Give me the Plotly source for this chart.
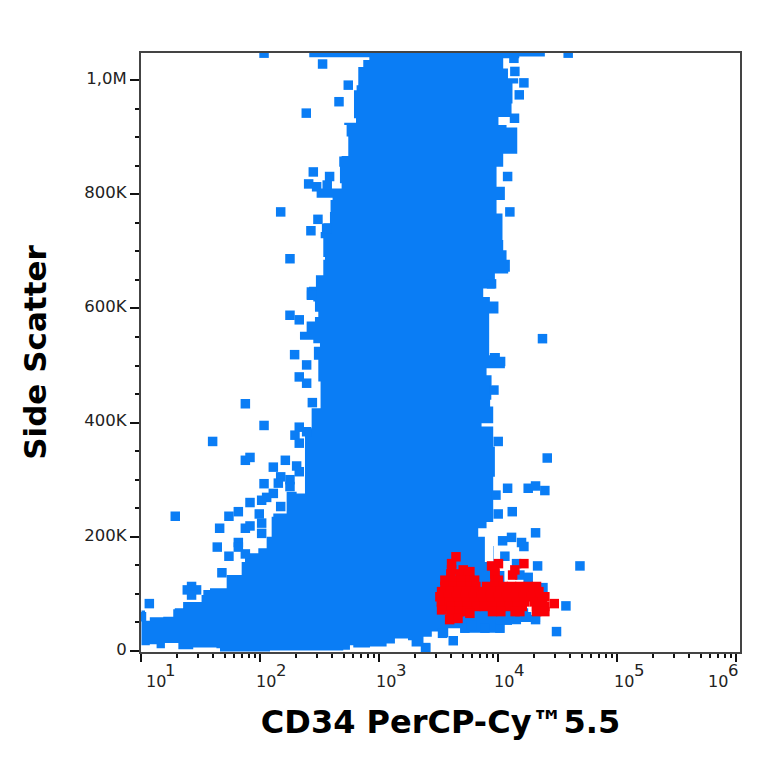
import plotly.graph_objects as go

# Outline of the saturated population: log10(intensity), side scatter in thousands
body_log_x = [2.41,2.41,2.915,2.915,2.864,2.864,2.808,2.822,2.808,2.786,2.786,2.803,2.704,2.724,2.738,2.738,2.682,2.662,2.668,2.682,2.472,2.472,2.606,2.589,2.584,2.528,2.528,2.506,2.528,2.542,2.528,2.466,2.466,2.408,2.388,2.444,2.458,2.486,2.458,2.388,2.388,2.332,2.332,2.444,2.50,2.449,2.449,2.486,2.505,2.505,2.43,2.43,2.374,2.374,2.304,2.22,2.22,2.108,2.094,2.052,1.982,1.87,1.842,1.716,1.716,1.576,1.52,1.505,1.365,1.35,1.28,1.267,1.183,1.07,1.03,1.03,1.0,1.0,1.07,1.127,1.197,1.197,1.25,1.31,1.435,1.435,1.63,1.66,2.08,2.08,2.696,2.752,2.78,2.92,3.06,3.13,3.24,3.27,3.34,3.37,3.44,3.494,3.578,3.68,3.68,3.82,3.82,4.05,4.05,4.11,4.19,4.35,4.35,4.25,4.05,3.96,3.956,3.886,3.83,3.9,3.956,3.956,3.97,3.956,3.858,3.956,3.956,3.93,3.94,3.942,3.9,4.054,4.054,4.012,3.928,3.922,4.0,4.0,3.928,3.872,3.97,3.97,4.082,4.096,4.068,4.04,4.034,4.034,3.984,3.984,4.054,4.054,3.984,3.984,4.082,4.04,4.158,4.158,4.068,4.0,4.11,4.118,4.166,4.08,3.942,3.942,4.04,4.04,4.175,4.175,4.39,4.39]
body_ss = [1060,1040,1040,1035,1035,1023,1023,991,982,966,933,925,921,901,888,867,866,848,819,810,807,794,790,769,749,748,734,723,690,685,658,657,638,637,615,612,594,585,577,574,559,557,545,539,533,524,510,472,466,425,419,390,369,276,279,273,241,235,200,180,171,156,133,130,110,107,98,86,86,75,73,60,59,53,54,71,71,10,12,5,5,14,14,3,3,6,5,-1,-1,1,2,10,6,8,13,22,19,8,8,25,34,24,40,40,32,32,32,32,47,47,51,48,63,75,140,184,156,200,215,226,264,305,358,393,399,410,428,440,466,483,495,499,512,522,518,591,594,612,620,635,635,661,664,685,702,720,725,766,769,790,798,813,819,848,848,871,874,917,921,935,959,994,1003,1020,1012,1012,1026,1038,1029,1041,1041,1060]

# Individually visible events outside the saturated population
other_log_x = [2.03,2.522,2.738,2.66,2.385,2.444,2.581,2.405,2.472,2.561,2.17,2.483,2.424,2.248,2.248,2.326,2.43,2.556,
 2.287,2.388,2.326,2.388,2.436,1.873,2.03,1.598,2.326,2.29,2.388,2.326,1.873,1.912,2.209,2.108,2.304,2.326,2.03,2.17,2.15,2.248,2.248,2.108,2.052,2.01,1.912,2.17,1.814,1.735,1.99,1.284,1.657,1.873,1.912,2.01,2.01,1.637,1.814,1.814,1.735,1.873,1.676,1.421,1.385,1.463,1.421,1.066,1.0,3.388,
 4.586,4.13,4.138,4.214,4.175,4.135,4.077,4.096,3.942,4.37,4.018,3.962,3.998,4.41,4.077,4.25,4.312,4.39,3.979,
 4.116,3.998,4.312,4.11,4.035,4.194,4.214,4.054,4.152,4.329,4.685,4.18,4.25,4.374,4.567,4.488,3.62,3.388,3.53,3.718,3.774,3.886,4.012,4.012,4.074,4.236,4.312,3.83]
other_ss = [1047,1028,991,962,942,839,831,818,813,816,769,756,736,687,588,580,623,740,
 519,501,480,469,435,433,395,367,392,378,384,364,334,339,334,322,324,314,293,305,294,300,288,276,269,264,260,253,244,236,240,236,215,215,219,224,206,182,190,182,166,170,137,113,107,107,98,83,60,5,
 1047,1038,1015,995,974,933,831,769,643,547,507,457,367,338,285,285,289,281,273,
 244,240,207,199,193,190,183,166,153,149,149,133,129,111,79,34,18,6,31,40,45,40,40,54,54,60,55,63]

# Highlighted gate events
gate_log_x = [3.643,3.606,3.606,3.704,3.76,4.0,3.942,4.214,4.138,4.119,3.97,
 3.6,3.68,3.75,3.97,
 3.55,3.62,3.69,3.76,3.8,3.97,4.0,
 3.55,3.62,3.69,3.76,3.81,3.9,3.97,4.04,4.11,4.18,4.25,4.32,
 3.522,3.592,3.662,3.732,3.802,3.872,3.942,4.012,4.082,4.152,4.222,4.292,4.34,
 3.508,3.578,3.648,3.718,3.788,3.858,3.928,4.0,4.068,4.138,4.208,4.278,4.348,4.39,
 3.52,3.59,3.66,3.73,3.8,3.87,3.94,4.01,4.08,4.15,4.22,4.3,4.37,
 3.6,3.67,3.74,3.81,3.88,3.95,4.02,4.09,4.16,4.2,4.32,4.39,4.469,
 3.522,3.6,3.67,3.74,3.95,4.02,4.14,4.18,4.32,4.39,3.59,3.66,3.76]
gate_ss = [165,153,142,142,139,153,149,153,142,133,139,
 135,135,135,135,
 124,124,124,124,124,124,124,
 113,113,113,113,113,113,113,113,113,113,113,113,
 104,104,104,104,104,104,104,104,104,104,104,104,104,
 95,95,95,95,95,95,95,95,95,95,95,95,95,95,
 86,86,86,86,86,86,86,86,86,86,86,86,86,
 78,78,78,78,78,78,78,78,78,78,78,78,83,
 72,69,69,69,69,69,69,69,69,69,55,57,66]

x_tick_values = [10,100,1000,10000,100000,1000000]
x_tick_decades = [1,2,3,4,5,6]
x_tick_exponents = ["1","2","3","4","5","6"]
x_base_offsets = [14.5,5.5,7,6,7,-18]
x_exponent_offsets = [29.5,21,22,21,22,-3]
x_minor_values = [m*d for d in (10,100,1000,10000,100000) for m in range(2,10)]
y_tick_values = [0,200,400,600,800,1000]
y_tick_labels = ["0","200K","400K","600K","800K","1,0M"]
y_minor_values = [50,100,150,250,300,350,450,500,550,650,700,750,850,900,950,1050]

BLUE = "#0a7df5"
RED = "#fa0008"
fig = go.Figure()
fig.add_trace(go.Scatter(x=[10**v for v in body_log_x], y=body_ss, mode="lines", fill="toself",
                         fillcolor=BLUE, line=dict(width=0, color=BLUE, shape="hv"), hoverinfo="skip"))
fig.add_trace(go.Scatter(x=[10**v for v in other_log_x], y=other_ss, mode="markers",
                         marker=dict(symbol="square", size=9.5, color=BLUE, line=dict(width=0))))
fig.add_trace(go.Scatter(x=[10**v for v in gate_log_x], y=gate_ss, mode="markers",
                         marker=dict(symbol="square", size=9.5, color=RED, line=dict(width=0))))

for decade, exponent, base_off, exp_off in zip(x_tick_decades, x_tick_exponents, x_base_offsets, x_exponent_offsets):
    fig.add_annotation(x=decade, xref="x", y=0, yref="paper", xanchor="center", yanchor="middle",
                       yshift=-29, xshift=base_off, showarrow=False, text="10",
                       font=dict(size=16, family="DejaVu Sans", color="#222"))
    fig.add_annotation(x=decade, xref="x", y=0, yref="paper", xanchor="center", yanchor="middle",
                       yshift=-18, xshift=exp_off, showarrow=False, text=exponent,
                       font=dict(size=16.5, family="DejaVu Sans", color="#222"))

fig.update_layout(
    width=764, height=764, showlegend=False, paper_bgcolor="white", plot_bgcolor="white",
    margin=dict(l=141, r=24, t=53, b=112),
    font=dict(family="DejaVu Sans", color="#222"),
)
fig.update_xaxes(
    type="log", range=[0.996, 6.03], showgrid=False, zeroline=False, mirror=True,
    showline=True, linecolor="#444", linewidth=2,
    tickmode="array", tickvals=x_tick_values, showticklabels=False, ticks="outside",
    ticklen=8, tickwidth=2, tickcolor="#111",
    minor=dict(tickmode="array", tickvals=x_minor_values, ticks="outside", ticklen=4, tickwidth=1.5,
               tickcolor="#111", showgrid=False),
    title=dict(text="<b>CD34 PerCP-Cy™5.5</b>", font=dict(size=32, family="DejaVu Sans", color="#000"), standoff=50),
)
fig.update_yaxes(
    range=[-1.75, 1047.3], showgrid=False, zeroline=False, mirror=True,
    showline=True, linecolor="#444", linewidth=2,
    tickmode="array", tickvals=y_tick_values, ticktext=y_tick_labels, ticks="outside",
    ticklen=9, tickwidth=2, tickcolor="#111", tickfont=dict(size=16.5, family="DejaVu Sans", color="#222"),
    ticklabelshift=-2,
    minor=dict(tickmode="array", tickvals=y_minor_values, ticks="outside", ticklen=4, tickwidth=1.5,
               tickcolor="#111", showgrid=False),
    title=dict(text="<b>Side Scatter</b>", font=dict(size=31, family="DejaVu Sans", color="#000"), standoff=29),
)
fig.write_html("out.html", config=dict(displayModeBar=False), post_script="document.body.style.margin='0';")
